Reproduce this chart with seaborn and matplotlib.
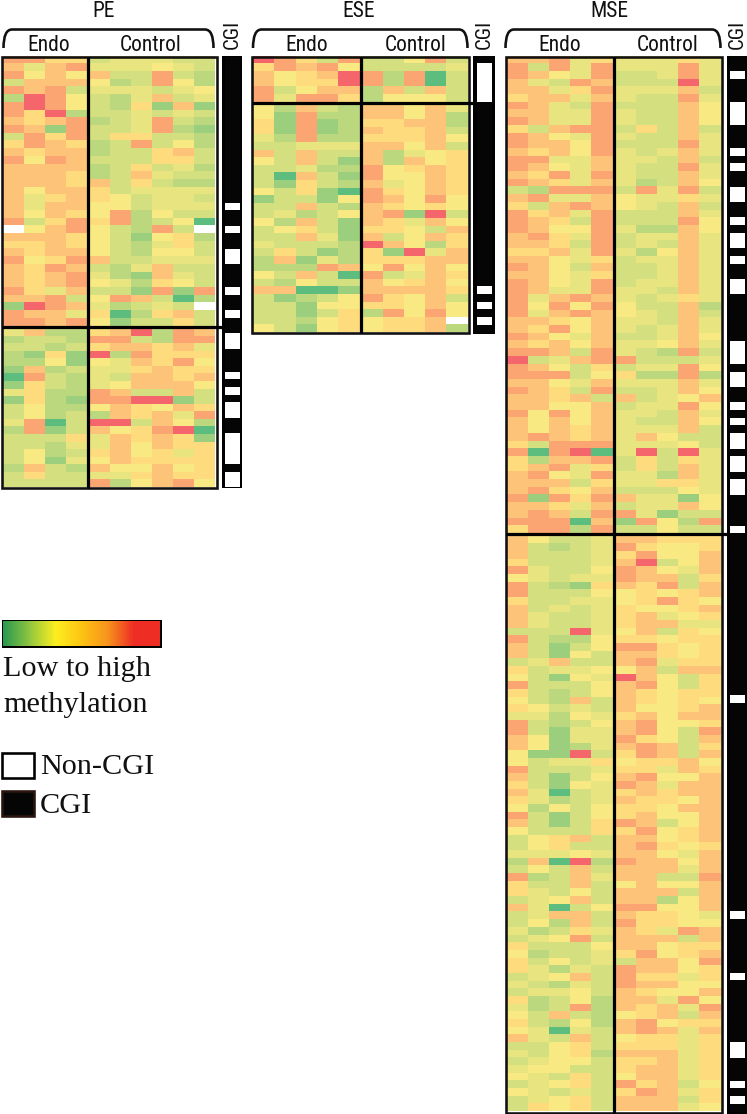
import numpy as np
import pandas as pd
import seaborn as sns
import matplotlib
matplotlib.use("Agg")
import matplotlib.pyplot as plt
from matplotlib import font_manager
from matplotlib.colors import LinearSegmentedColormap, ListedColormap
from matplotlib.patches import PathPatch, Rectangle
from matplotlib.path import Path

# methylation level per cell on a 0-9 scale (x = missing); "endo|control"
PE_TOP = """8866|344433 7478|444543 8575|733832 3777|523852 8783|444345 2985|324734 8985|326171 8692|334343
7678|234832 8718|334821 3868|366332 6876|238352 7677|233673 8587|333663 7777|236342 7776|237433
7776|736322 7577|634444 7467|653443 7477|553444 7576|582533 8368|682350 x578|53283x
7776|531562 6676|532463 7677|532553 8568|733444 7687|324733 7678|421743 7678|542653
8647|331818 7783|587302 1987|42343x 8774|602673 8878|513363""".split()
PE_BOTTOM = """4722|679287 2332|883288 3323|677674 2161|928666 2251|547685 1723|446766 0832|437767 1632|457775
4622|873373 1621|889913 3522|576576 3523|276748 4803|993752 2813|756890 3336|476761 3324|475766
3523|675646 3514|576666 2732|755756 3633|446766 3333|825785""".split()
ESE_TOP = """98638|33583 68785|33334 75679|82803 75669|82803 83577|27373 84886|25553""".split()
ESE_BOTTOM = """52732|77574 51822|77572 61812|66772 61812|76673 42822|66675 33444|77573 73733|72456 53731|72756
33422|85676 30731|85576 31632|74576 53610|86576 13315|87585 33732|76565 34235|78193 52731|76475
35631|66537 33741|73576 43332|97526 36312|61947 27142|66677 22287|58575 53730|83476 32533|75675
77001|77776 31235|86573 33155|66575 33136|28585 33256|5667x 53156|56672""".split()
MSE_TOP = """77846|44464 83848|44484 87548|33484 74387|33394 77468|44473 67747|43384 87438|33375 77448|43375
87448|43375 63788|36373 87548|43374 87758|33384 76758|43474 88447|44373 87547|43384 76848|43374
87647|42375 32888|38483 78447|54464 63787|54373 86748|33374 87638|33385 87558|42275 78648|34474
77638|34374 66748|42574 77546|34474 87537|33474 77546|33474 87548|34474 87448|44374 84787|43464
85858|53372 84787|54373 77657|44374 76857|43474 87547|33475 76757|44574 88738|43283 93478|83334
87536|34485 88835|62282 77547|44474 87638|33475 77673|73457 77557|34485 85857|44374 75757|43375
75767|44473 78767|47533 63888|44453 80890|49394 62778|36364 67846|36374 78548|44274 77736|44664
78657|33354 81868|74415 77647|34475 78738|84133 88807|18528 68828|33533""".split()
MSE_BOTTOM = """75334|77666 73234|86556 73334|68557 63334|79357 84335|87547 54344|87736 83216|76837 83335|56567
63344|56865 73434|65567 74334|67456 74334|67744 33394|57365 83225|66566 73135|88656 73153|77656
34733|78466 63445|57377 53154|97536 83335|78536 63235|76566 53273|76565 65343|75567 44254|67577
83235|78556 83144|78538 75144|86537 75124|78736 51193|68737 53446|56675 83334|66476 73135|78557
63154|87477 74034|67677 64234|76657 52535|66577 83135|67557 73136|87357 53336|68567 35673|77567
35633|78656 44454|77547 27092|87757 35373|77747 82374|77338 63373|57557 64353|77737 34573|77257
74035|88557 34773|76654 35273|86655 42364|76487 34583|77737 63335|77566 52334|68567 63534|37758
64243|87756 34573|86646 43243|87755 34453|76557 62352|77485 42382|76748 53732|56737 63252|78566
54043|78747 74373|56646 33563|66646 43562|77746 34553|66746 45533|67746 54363|57746 34563|86735
54343|68746 34563|77736 36563|77745""".split()

# zero-based rows that are non-CGI (white) in each annotation strip
PE_NON_CGI = [19, 22, 25, 26, 30, 33, 36, 37, 41, 43, 45, 46, 49, 50, 51, 52, 54, 55]
ESE_NON_CGI = [1, 2, 3, 4, 5, 30, 32, 34]
MSE_NON_CGI = [2, 6, 7, 8, 12, 14, 17, 18, 21, 23, 24, 26, 29, 30, 37, 38, 39, 41, 42, 45,
               47, 49, 50, 52, 53, 55, 56, 61, 83, 111, 119, 128, 129, 133, 135]

PANEL_TITLES = ["PE", "ESE", "MSE"]
GROUP_LABELS = ["Endo", "Control"]
STRIP_LABEL = "CGI"
LEGEND_BAR_LABEL = ["Low to high", "methylation"]
LEGEND_KEYS = ["Non-CGI", "CGI"]

HEAT_COLORS = ["#5cbd7f", "#9ccf7d", "#bdd87f", "#d4df80", "#e8e581",
               "#f9e983", "#fedc7d", "#fdc579", "#fba772", "#f4666b"]
LEGEND_COLORS = ["#2a9a4e", "#8fc63f", "#fbee20", "#fdc412", "#f7941d", "#ee2d24", "#ee2d24"]

W, H = 747, 1114
sns.set_theme(style="white")
installed = {f.name for f in font_manager.fontManager.ttflist}
CONDENSED = [n for n in ["Liberation Sans Narrow", "Roboto Condensed", "Open Sans Condensed", "Noto Sans Condensed"] if n in installed]
NARROW = CONDENSED[:1] + ["Liberation Sans", "DejaVu Sans"]
HEAD_SIZE = 15.5 if CONDENSED else 14
SERIF = ["Liberation Serif", "DejaVu Serif"]
fig = plt.figure(figsize=(W / 100, H / 100), dpi=100, facecolor="white")
cmap = LinearSegmentedColormap.from_list("meth", HEAT_COLORS)


def px_axes(x0, y0, x1, y1, **kw):
    return fig.add_axes([x0 / W, 1 - y1 / H, (x1 - x0) / W, (y1 - y0) / H], **kw)


def parse(rows, part):
    out = []
    for r in rows:
        s = r.split("|")[part]
        out.append([np.nan if c == "x" else float(c) for c in s])
    return pd.DataFrame(out)


def block(rows, part, box):
    ax = px_axes(*box, facecolor="white")
    sns.heatmap(parse(rows, part), ax=ax, cmap=cmap, vmin=0, vmax=9, cbar=False,
                xticklabels=False, yticklabels=False)
    ax.set_xlabel("")
    ax.set_ylabel("")


def strip(non_cgi, n, outer, inner):
    back = px_axes(*outer, facecolor="black")
    back.set_xticks([])
    back.set_yticks([])
    for s in back.spines.values():
        s.set_visible(False)
    vals = np.zeros((n, 1))
    vals[non_cgi, 0] = 1
    ax = px_axes(*inner, facecolor="black")
    sns.heatmap(pd.DataFrame(vals), ax=ax, cmap=ListedColormap(["#050505", "white"]), vmin=0, vmax=1,
                cbar=False, xticklabels=False, yticklabels=False)


PANELS = [
    dict(top=PE_TOP, bottom=PE_BOTTOM, xs=(3, 86.5, 89, 215.5), ys=(55.5, 325.5, 328, 487),
         frame=(2, 56.5, 216.5, 488), strip_outer=(221.5, 56, 242, 488), strip_inner=(225, 56.5, 240, 487),
         non=PE_NON_CGI, title=104, labels=(49, 151), strip_x=232, bracket=(3, 214)),
    dict(top=ESE_TOP, bottom=ESE_BOTTOM, xs=(253, 359.5, 362, 467.5), ys=(55.5, 101.5, 104, 332),
         frame=(252, 56.5, 468.5, 333), strip_outer=(473, 56, 494.5, 334), strip_inner=(476.5, 55.5, 492, 332.5),
         non=ESE_NON_CGI, title=359, labels=(307, 416), strip_x=484, bracket=(252.5, 468)),
    dict(top=MSE_TOP, bottom=MSE_BOTTOM, xs=(506.5, 612.5, 615, 720.5), ys=(55.5, 533, 535.5, 1111),
         frame=(505.5, 56.5, 721.5, 1112.5), strip_outer=(726.5, 56, 747, 1114), strip_inner=(729.5, 55.5, 745, 1111.5),
         non=MSE_NON_CGI, title=609, labels=(560, 668), strip_x=737, bracket=(505, 721)),
]

for p in PANELS:
    x0, x1, x2, x3 = p["xs"]
    y0, y1, y2, y3 = p["ys"]
    block(p["top"], 0, (x0, y0, x1, y1))
    block(p["top"], 1, (x2, y0, x3, y1))
    block(p["bottom"], 0, (x0, y2, x1, y3))
    block(p["bottom"], 1, (x2, y2, x3, y3))
    strip(p["non"], len(p["top"]) + len(p["bottom"]), p["strip_outer"], p["strip_inner"])

# overlay in pixel coordinates for frames, brackets and labels
ov = fig.add_axes([0, 0, 1, 1], facecolor="none")
ov.set_xlim(0, W)
ov.set_ylim(H, 0)
ov.axis("off")
PX = 0.72
for p, title in zip(PANELS, PANEL_TITLES):
    fx0, fy0, fx1, fy1 = p["frame"]
    x0, x1, x2, x3 = p["xs"]
    y0, y1, y2, y3 = p["ys"]
    ov.add_patch(Rectangle((fx0, fy0), fx1 - fx0, fy1 - fy0, fill=False, ec="#111111", lw=2.6 * PX))
    xm, ym = (x1 + x2) / 2, (y1 + y2) / 2
    ov.plot([xm, xm], [fy0, fy1], color="black", lw=3.2 * PX, solid_capstyle="butt")
    ov.plot([fx0, p["strip_outer"][0] + 2], [ym, ym], color="black", lw=3.2 * PX, solid_capstyle="butt")
    a, b = p["bracket"]
    verts = [(a + 0.5, 48), (a + 0.5, 29.5), (a + 9, 29.5), (b - 9, 29.5), (b - 0.5, 29.5), (b - 0.5, 48)]
    codes = [Path.MOVETO, Path.CURVE3, Path.CURVE3, Path.LINETO, Path.CURVE3, Path.CURVE3]
    ov.add_patch(PathPatch(Path(verts, codes), fill=False, ec="#111111", lw=2.6 * PX))
    ov.text(p["title"], 17, title, family=NARROW, fontsize=HEAD_SIZE, ha="center", va="baseline", color="#111111")
    for xc, lab in zip(p["labels"], GROUP_LABELS):
        ov.text(xc, 51, lab, family=NARROW, fontsize=HEAD_SIZE, ha="center", va="baseline", color="#111111")
    ov.text(p["strip_x"], 34, STRIP_LABEL, family=NARROW, fontsize=HEAD_SIZE - 0.5, ha="center", va="center", rotation=90, color="#111111")

# legend
leg_cmap = LinearSegmentedColormap.from_list("legend", LEGEND_COLORS)
bar = px_axes(3, 621, 160, 646)
sns.heatmap(pd.DataFrame([np.linspace(0, 1, 160)]), ax=bar, cmap=leg_cmap, cbar=False, xticklabels=False, yticklabels=False)
ov.add_patch(Rectangle((3, 621), 157, 25, fill=False, ec="black", lw=3 * PX))
ov.text(3, 676, LEGEND_BAR_LABEL[0], family=SERIF, fontsize=21.8, va="baseline", color="#111111")
ov.text(3, 712, LEGEND_BAR_LABEL[1], family=SERIF, fontsize=21.8, va="baseline", color="#111111")
ov.add_patch(Rectangle((2, 753), 32, 25, fc="white", ec="black", lw=2.6 * PX))
ov.add_patch(Rectangle((2, 791), 32, 25, fc="#050505", ec="#2a1410", lw=2.6 * PX))
ov.text(40, 774, LEGEND_KEYS[0], family=SERIF, fontsize=21.8, va="baseline", color="#111111")
ov.text(40, 813, LEGEND_KEYS[1], family=SERIF, fontsize=21.8, va="baseline", color="#111111")

fig.savefig("out.png", dpi=100)
